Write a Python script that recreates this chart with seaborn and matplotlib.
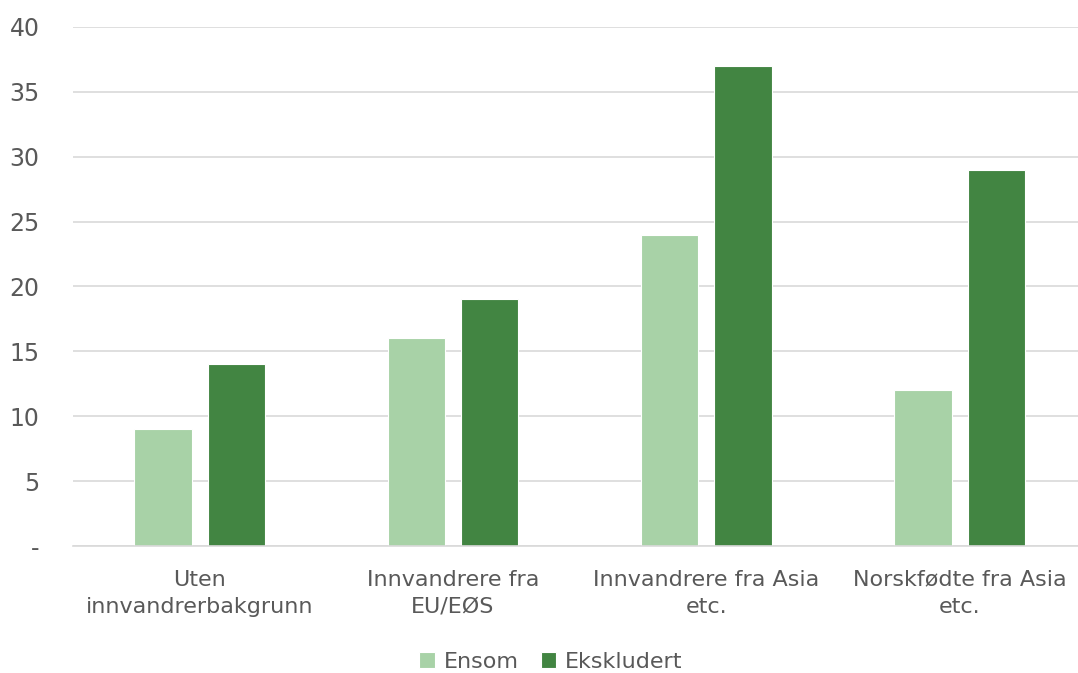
import matplotlib.pyplot as plt
import pandas as pd
import seaborn as sns

categories = ["Uten\ninnvandrerbakgrunn", "Innvandrere fra\nEU/EØS",
              "Innvandrere fra Asia\netc.", "Norskfødte fra Asia\netc."]
ensom = [9, 16, 24, 12]
ekskludert = [14, 19, 37, 29]
series = ["Ensom", "Ekskludert"]
colors = ["#A8D2A7", "#428542"]
yticks = [0, 5, 10, 15, 20, 25, 30, 35, 40]
ytick_labels = ["-", "5", "10", "15", "20", "25", "30", "35", "40"]

df = pd.DataFrame({
    "kategori": categories * 2,
    "serie": [series[0]] * 4 + [series[1]] * 4,
    "verdi": ensom + ekskludert,
})

sns.set_theme(style="white")
plt.rcParams["font.family"] = ["DejaVu Sans"]
text_color = "#595959"

fig = plt.figure(figsize=(10.78, 6.73), dpi=100)
# the plot area runs a little past the right edge, like the reference
ax = fig.add_axes([0.0677, 0.1887, 0.94, 0.7713])

sns.barplot(data=df, x="kategori", y="verdi", hue="serie", palette=colors,
            saturation=1, width=0.58, gap=0.22, ax=ax,
            edgecolor="white", linewidth=0.8)

ax.set_ylim(0, 40)
ax.set_xlim(-0.5, 3.5)
ax.set_yticks(yticks)
ax.set_yticklabels(ytick_labels)
ax.yaxis.grid(True, color="#D9D9D9", linewidth=1.2)
ax.set_axisbelow(True)
for s in ["top", "right", "left"]:
    ax.spines[s].set_visible(False)
ax.spines["bottom"].set_color("#D9D9D9")
ax.spines["bottom"].set_linewidth(1.2)
ax.tick_params(axis="both", length=0, labelsize=16, colors=text_color)
ax.tick_params(axis="y", labelsize=17, pad=24)
ax.tick_params(axis="x", pad=17)
for lbl in ax.get_xticklabels():
    lbl.set_linespacing(1.45)
ax.set_xlabel("")
ax.set_ylabel("")

ax.get_legend().remove()
handles, labels = ax.get_legend_handles_labels()
leg = fig.legend(handles, labels, loc="center", bbox_to_anchor=(0.511, 0.017),
                 ncol=2, frameon=False, fontsize=16, handlelength=0.7,
                 handleheight=0.7, columnspacing=1.0, handletextpad=0.4)
for t in leg.get_texts():
    t.set_color(text_color)

fig.savefig("out.png", dpi=100)
